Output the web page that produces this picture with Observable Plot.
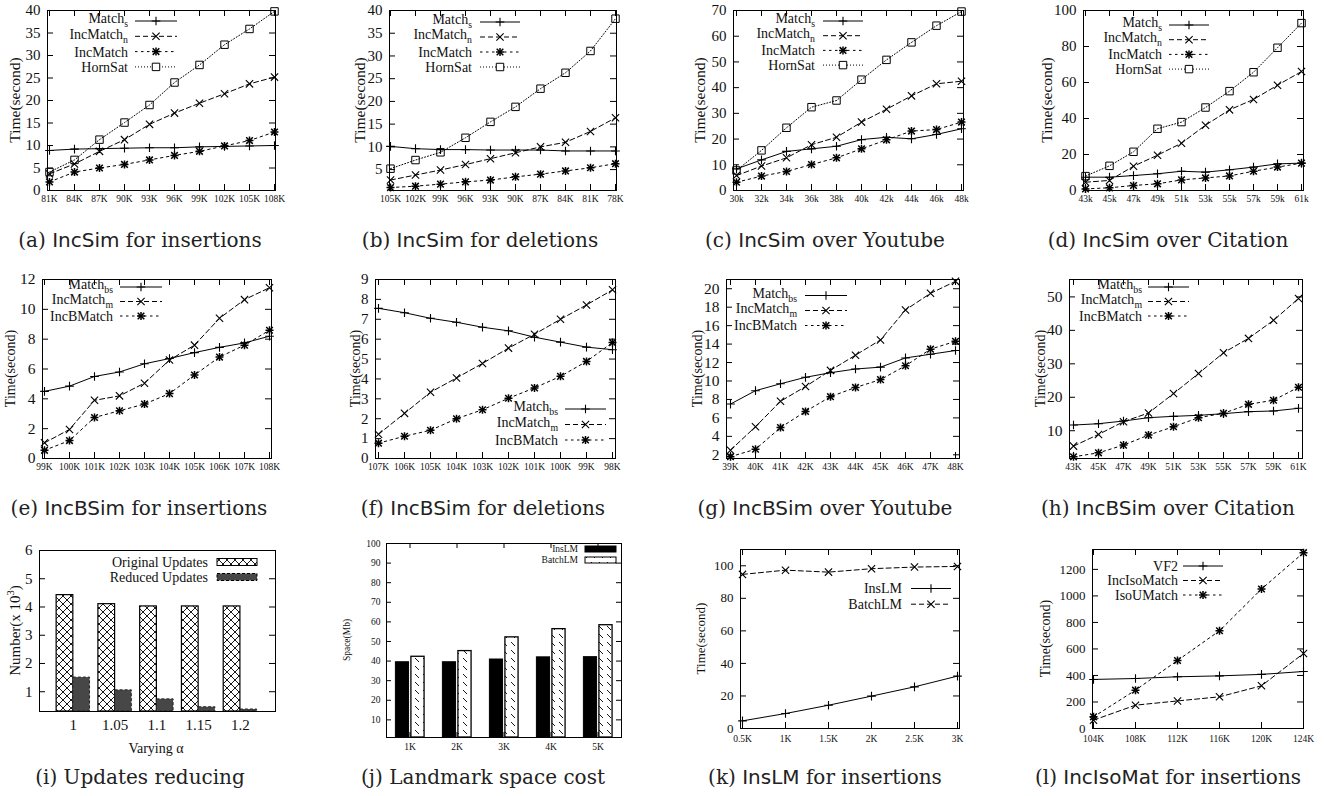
<!DOCTYPE html>
<html><head><meta charset="utf-8">
<script src="https://cdn.jsdelivr.net/npm/d3@7"></script>
<script src="https://cdn.jsdelivr.net/npm/@observablehq/plot@0.6"></script>
<style>
body{margin:0;background:#fff;}
#root{position:relative;width:1325px;height:796px;overflow:hidden;background:#fff;}
.panel{position:absolute;}
.cap{position:absolute;font-family:"DejaVu Serif",serif;font-size:20px;color:#222;white-space:nowrap;transform:translate(-50%,-50%);line-height:1;}
.cap .sf{font-family:"DejaVu Sans",sans-serif;}
</style></head><body>
<svg width="0" height="0" style="position:absolute">
<defs>
<pattern id="xhatch" width="8" height="8" patternUnits="userSpaceOnUse"><path d="M0,0L8,8M8,0L0,8" stroke="#000" stroke-width="0.9"/></pattern>
<pattern id="bslash" width="8" height="8" patternUnits="userSpaceOnUse"><path d="M1,1L5,5" stroke="#000" stroke-width="0.9"/></pattern>
</defs></svg>
<div id="root"></div>
<script>
// ---------------- data ----------------
const aX = ["81K","84K","87K","90K","93K","96K","99K","102K","105K","108K"];
const aMatchS    = [8.9, 9.2, 9.3, 9.4, 9.5, 9.5, 9.7, 9.8, 9.9, 10.0];
const aIncMatchN = [3.7, 5.9, 8.7, 11.3, 14.7, 17.2, 19.4, 21.5, 23.7, 25.2];
const aIncMatch  = [1.9, 4.1, 5.0, 5.8, 6.8, 7.8, 8.7, 9.9, 11.1, 13.0];
const aHornSat   = [4.1, 6.8, 11.3, 15.1, 19.0, 24.0, 27.9, 32.4, 35.9, 39.8];

const bX = ["105K","102K","99K","96K","93K","90K","87K","84K","81K","78K"];
const bMatchS    = [10.1, 9.6, 9.4, 9.4, 9.3, 9.3, 9.3, 9.1, 9.1, 9.1];
const bIncMatchN = [2.7, 3.8, 4.9, 6.1, 7.4, 8.7, 10.0, 11.0, 13.4, 16.4];
const bIncMatch  = [1.05, 1.35, 1.8, 2.3, 2.7, 3.4, 4.0, 4.7, 5.4, 6.3];
const bHornSat   = [5.2, 7.1, 8.8, 12.0, 15.5, 18.8, 22.8, 26.3, 31.1, 38.2];

const cX = ["30k","32k","34k","36k","38k","40k","42k","44k","46k","48k"];
const cMatchS    = [8.4, 11.9, 15.2, 16.2, 17.2, 19.8, 20.7, 20.1, 21.8, 24.0];
const cIncMatchN = [5.8, 9.5, 12.7, 17.8, 20.7, 26.6, 31.6, 36.8, 41.5, 42.5];
const cIncMatch  = [3.2, 5.6, 7.4, 10.1, 12.7, 16.2, 19.7, 23.1, 23.7, 26.6];
const cHornSat   = [7.8, 15.6, 24.4, 32.4, 35.0, 43.1, 50.8, 57.6, 64.1, 69.6];

const dX = ["43k","45k","47k","49k","51k","53k","55k","57k","59k","61k"];
const dMatchS    = [7.4, 7.4, 8.3, 9.3, 10.7, 10.2, 11.5, 13.0, 14.8, 15.2];
const dIncMatchN = [4.6, 5.6, 13.5, 19.6, 26.3, 36.3, 44.8, 50.6, 58.5, 66.1];
const dIncMatch  = [0.9, 1.5, 2.8, 3.7, 5.9, 7.0, 8.1, 10.7, 13.0, 15.2];
const dHornSat   = [8.0, 13.7, 21.5, 34.3, 38.0, 46.1, 55.2, 65.7, 79.3, 93.0];

const eX = ["99K","100K","101K","102K","103K","104K","105K","106K","107K","108K"];
const eMatchBs   = [4.5, 4.85, 5.5, 5.8, 6.35, 6.7, 7.1, 7.45, 7.75, 8.2];
const eIncMatchM = [1.05, 1.95, 3.9, 4.2, 5.05, 6.6, 7.6, 9.4, 10.65, 11.45];
const eIncBMatch = [0.55, 1.2, 2.75, 3.2, 3.65, 4.35, 5.6, 6.8, 7.6, 8.6];

const fX = ["107K","106K","105K","104K","103K","102K","101K","100K","99K","98K"];
const fMatchBs   = [7.55, 7.33, 7.05, 6.85, 6.6, 6.42, 6.1, 5.85, 5.6, 5.47];
const fIncMatchM = [1.22, 2.27, 3.33, 4.05, 4.78, 5.55, 6.25, 7.0, 7.72, 8.48];
const fIncBMatch = [0.77, 1.12, 1.42, 2.0, 2.45, 3.03, 3.55, 4.13, 4.88, 5.83];

const gX = ["39K","40K","41K","42K","43K","44K","45K","46K","47K","48K"];
const gMatchBs   = [7.5, 8.95, 9.7, 10.4, 10.9, 11.3, 11.5, 12.5, 12.9, 13.3];
const gIncMatchM = [2.5, 5.05, 7.8, 9.4, 11.15, 12.8, 14.45, 17.7, 19.5, 20.8];
const gIncBMatch = [1.8, 2.6, 4.95, 6.7, 8.3, 9.3, 10.15, 11.65, 13.45, 14.3];

const hX = ["43K","45K","47K","49K","51K","53K","55K","57K","59K","61K"];
const hMatchBs   = [11.7, 12.1, 12.9, 13.9, 14.3, 14.6, 15.1, 15.7, 15.9, 16.7];
const hIncMatchM = [5.4, 8.9, 12.7, 15.3, 21.1, 27.1, 33.3, 37.6, 43.0, 49.5];
const hIncBMatch = [2.2, 3.4, 5.7, 8.7, 11.2, 13.9, 15.2, 17.9, 19.1, 23.0];

const iAlpha    = ["1","1.05","1.1","1.15","1.2"];
const iOriginal = [4.42, 4.10, 4.02, 4.02, 4.02];
const iReduced  = [1.50, 1.05, 0.73, 0.45, 0.37];

const jX = ["1K","2K","3K","4K","5K"];
const jInsLM   = [39.4, 39.4, 40.8, 41.9, 42.0];
const jBatchLM = [42.2, 45.1, 52.1, 56.3, 58.3];

const kX = ["0.5K","1K","1.5K","2K","2.5K","3K"];
const kInsLM   = [4.7, 9.2, 14.3, 19.9, 25.6, 32.2];
const kBatchLM = [94.7, 97.3, 96.1, 98.2, 99.2, 99.6];

const lX = ["104K","108K","112K","116K","120K","124K"];
const lVF2         = [370, 377, 390, 397, 408, 430];
const lIncIsoMatch = [63, 176, 208, 239, 322, 566];
const lIsoUMatch   = [88, 289, 513, 737, 1052, 1326];

const row1Names = [{t:"Match",s:"s"},{t:"IncMatch",s:"n"},{t:"IncMatch"},{t:"HornSat"}];
const row2Names = [{t:"Match",s:"bs"},{t:"IncMatch",s:"m"},{t:"IncBMatch"}];

// ---------------- helpers ----------------
const FONT = "'Liberation Serif','Times New Roman',serif";
const INK = "#111";
const root = document.getElementById("root");
const ML = 60, MR = 12, MT = 6;
const DASH = {plus:null, times:"5,3", star:"2.5,3.5", square:"1,2"};
const FMT = d => String(d);

function symbolMarks(data, xf, yf, kind) {
  if (kind === "plus") return [Plot.dot(data,{x:xf,y:yf,symbol:"plus",r:2.9,stroke:"#000",strokeWidth:1.1})];
  if (kind === "times") return [Plot.dot(data,{x:xf,y:yf,symbol:"times",r:3.4,stroke:"#000",strokeWidth:1.1})];
  if (kind === "star") return [
    Plot.dot(data,{x:xf,y:yf,symbol:"plus",r:2.7,stroke:"#000",strokeWidth:1.5}),
    Plot.dot(data,{x:xf,y:yf,symbol:"times",r:3.1,stroke:"#000",strokeWidth:1.5})];
  return [Plot.dot(data,{x:xf,y:yf,symbol:"square",r:4.2,fill:"none",stroke:"#000",strokeWidth:1})];
}
function legendSymbol(g, kind, x, y) {
  const draw = (type, r, sw, fill) => g.append("path")
    .attr("d", d3.symbol(type, Math.PI*r*r)()).attr("transform",`translate(${x},${y})`)
    .attr("fill", fill || "none").attr("stroke","#000").attr("stroke-width", sw);
  if (kind === "plus") draw(d3.symbolPlus, 2.9, 1.1);
  else if (kind === "times") draw(d3.symbolTimes, 3.4, 1.1);
  else if (kind === "star") { draw(d3.symbolPlus, 2.7, 1.5); draw(d3.symbolTimes, 3.1, 1.5); }
  else draw(d3.symbolSquare, 4.2, 1, "white");
}
function labelText(g, name, x, y, font, anchor) {
  const shift = name.s ? -2.5 : 0;
  const t = g.append("text").attr("x", x).attr("y", y + shift).attr("dy","0.35em")
    .attr("text-anchor", anchor || "end").attr("font-size", font).attr("fill", INK);
  t.append("tspan").text(name.t);
  if (name.s) t.append("tspan").attr("dy", 4).attr("font-size", font*0.7).text(name.s);
  return t;
}
function addLineLegend(svg, series, leg) {
  const g = d3.select(svg).append("g").attr("font-family", FONT);
  series.forEach((s, i) => {
    const y = MT + leg.y0 + i*leg.dy;
    labelText(g, s.name, ML + leg.tx, y, leg.font);
    g.append("line").attr("x1", ML+leg.l1).attr("x2", ML+leg.l2).attr("y1", y).attr("y2", y)
      .attr("stroke","#000").attr("stroke-width",1).attr("stroke-dasharray", DASH[s.kind]);
    legendSymbol(g, s.kind, ML + (leg.l1+leg.l2)/2, y);
  });
}
function addYLabel(svg, fh, off, font, parts) {
  const g = d3.select(svg).append("g").attr("font-family", FONT)
    .attr("transform", `translate(${ML-off},${MT+fh/2}) rotate(-90)`);
  const t = g.append("text").attr("text-anchor","middle").attr("dy","0.35em").attr("font-size",font).attr("fill",INK);
  parts.forEach(p => {
    const ts = t.append("tspan").text(p.t);
    if (p.sup) ts.attr("dy", -font*0.4).attr("font-size", font*0.7);
    if (p.after) ts.attr("dy", font*0.4);
  });
}
function place(svg, left, top) {
  const div = document.createElement("div");
  div.className = "panel"; div.style.left = left+"px"; div.style.top = top+"px";
  div.appendChild(svg); root.appendChild(div);
}
const STYLE = {fontFamily: FONT, color: INK, background: "transparent", overflow: "visible", maxWidth: "none"};

function linePanel(p) {
  const fw = p.R - p.L, fh = p.B - p.T, MB = p.mb || 30;
  const xs = p.x, TL = p.tl || 6;
  const marks = [];
  marks.push(Plot.tickX(xs, {x:d=>d, insetTop: fh-TL, stroke:"#000"}));
  marks.push(Plot.tickX(xs, {x:d=>d, insetBottom: fh-TL, stroke:"#000"}));
  marks.push(Plot.tickY(p.yTicks, {y:d=>d, insetRight: fw-TL, stroke:"#000"}));
  marks.push(Plot.tickY(p.yTicks, {y:d=>d, insetLeft: fw-TL, stroke:"#000"}));
  p.series.forEach(s => {
    marks.push(Plot.line(s.values, {x:(d,i)=>xs[i], y:d=>d, stroke:"#000", strokeWidth:1, strokeDasharray: DASH[s.kind]}));
    marks.push(...symbolMarks(s.values, (d,i)=>xs[i], d=>d, s.kind));
  });
  marks.push(Plot.axisX({tickSize:0, tickPadding: p.xPad || 5, fontSize: p.xFont, label:null}));
  marks.push(Plot.axisY({ticks: p.yTicks, tickFormat: FMT, tickSize:0, tickPadding: 7, fontSize: p.yFont, label:null}));
  marks.push(Plot.frame({stroke:"#000", strokeWidth:1}));
  const svg = Plot.plot({
    width: fw+ML+MR, height: fh+MT+MB, marginLeft: ML, marginRight: MR, marginTop: MT, marginBottom: MB,
    x: {type:"point", domain: xs, padding: 0}, y: {domain: p.yDomain},
    style: STYLE, marks
  });
  addLineLegend(svg, p.series, p.leg);
  addYLabel(svg, fh, p.ylOff, p.ylFont, [{t:"Time(second)"}]);
  place(svg, p.L-ML, p.T-MT);
}
function r1(vals){ return [
  {name: row1Names[0], kind:"plus", values: vals[0]},
  {name: row1Names[1], kind:"times", values: vals[1]},
  {name: row1Names[2], kind:"star", values: vals[2]},
  {name: row1Names[3], kind:"square", values: vals[3]}]; }
function r2(vals){ return [
  {name: row2Names[0], kind:"plus", values: vals[0]},
  {name: row2Names[1], kind:"times", values: vals[1]},
  {name: row2Names[2], kind:"star", values: vals[2]}]; }

// ---------------- row 1 ----------------
linePanel({L:47,R:275,T:10,B:190, x:aX, yDomain:[0,40], yTicks:d3.range(0,41,5), xFont:9.5, yFont:15, ylOff:32, ylFont:15.5,
  series:r1([aMatchS,aIncMatchN,aIncMatch,aHornSat]), leg:{tx:81,l1:88,l2:130,y0:11,dy:15.3,font:14}});
linePanel({L:389,R:616,T:10,B:190, x:bX, yDomain:[0.4,40], yTicks:d3.range(5,41,5), xFont:9.5, yFont:15, ylOff:29, ylFont:15.5,
  series:r1([bMatchS,bIncMatchN,bIncMatch,bHornSat]), leg:{tx:83,l1:91,l2:131,y0:12,dy:15,font:14}});
linePanel({L:733,R:963,T:10,B:190, x:cX, yDomain:[0,70], yTicks:d3.range(0,71,10), xFont:9.5, yFont:15, ylOff:33, ylFont:15.5,
  series:r1([cMatchS,cIncMatchN,cIncMatch,cHornSat]), leg:{tx:82,l1:90,l2:130,y0:11,dy:14.7,font:14}});
linePanel({L:1083,R:1303,T:10,B:190, x:dX, yDomain:[0,100], yTicks:d3.range(0,101,20), xFont:9.5, yFont:15, ylOff:36, ylFont:15.5,
  series:r1([dMatchS,dIncMatchN,dIncMatch,dHornSat]), leg:{tx:79,l1:86,l2:126,y0:15,dy:14.7,font:14}});

// ---------------- row 2 ----------------
linePanel({L:42,R:271,T:279,B:458, x:eX, yDomain:[0,12], yTicks:d3.range(0,13,2), xFont:9.5, yFont:15.5, ylOff:32, ylFont:14,
  series:r2([eMatchBs,eIncMatchM,eIncBMatch]), leg:{tx:71,l1:78,l2:120,y0:8,dy:14.5,font:14}});
linePanel({L:375,R:615,T:279,B:458, x:fX, yDomain:[0,9], yTicks:d3.range(0,10,1), xFont:9.5, yFont:15, ylOff:20, ylFont:14,
  series:r2([fMatchBs,fIncMatchM,fIncBMatch]), leg:{tx:183,l1:190,l2:231,y0:130,dy:15.5,font:14}});
linePanel({L:726,R:959,T:279,B:458, x:gX, yDomain:[1.6,21], yTicks:d3.range(2,21,2), xFont:9.5, yFont:15.5, ylOff:29, ylFont:14,
  series:r2([gMatchBs,gIncMatchM,gIncBMatch]), leg:{tx:71,l1:79,l2:121,y0:16.5,dy:15,font:14}});
linePanel({L:1069,R:1302,T:279,B:458, x:hX, yDomain:[1.7,55.2], yTicks:d3.range(10,51,10), xFont:9.5, yFont:15.5, ylOff:29, ylFont:14,
  series:r2([hMatchBs,hIncMatchM,hIncBMatch]), leg:{tx:73,l1:79,l2:120,y0:8,dy:14.5,font:14}});

// ---------------- row 3: (k), (l) ----------------
linePanel({L:740,R:959,T:549,B:728, x:kX, yDomain:[0,110], yTicks:d3.range(0,101,20), xFont:9.5, yFont:13, ylOff:40, ylFont:13,
  xPad:7, series:[{name:{t:"InsLM"},kind:"plus",values:kInsLM},{name:{t:"BatchLM"},kind:"times",values:kBatchLM}],
  leg:{tx:162,l1:171,l2:211,y0:39.5,dy:15.7,font:14}});
linePanel({L:1092,R:1303,T:549,B:728, x:lX, yDomain:[0,1350], yTicks:d3.range(0,1201,200), xFont:9.5, yFont:13, ylOff:47, ylFont:14,
  xPad:7, series:[{name:{t:"VF2"},kind:"plus",values:lVF2},{name:{t:"IncIsoMatch"},kind:"times",values:lIncIsoMatch},{name:{t:"IsoUMatch"},kind:"star",values:lIsoUMatch}],
  leg:{tx:86,l1:91,l2:131,y0:17,dy:14.5,font:14}});

// ---------------- (i) bars ----------------
(function(){
  const L=39,R=275,T=550,B=711, fw=R-L, fh=B-T, MB=50, TL=6, y0=0.3;
  const idx = iAlpha.map((d,i)=>i);
  const yt = d3.range(1,7,1);
  const svg = Plot.plot({
    width: fw+ML+MR, height: fh+MT+MB, marginLeft: ML, marginRight: MR, marginTop: MT, marginBottom: MB,
    x: {type:"linear", domain:[-0.81,4.84]}, y: {domain:[y0,6]}, style: STYLE,
    marks: [
      Plot.tickY(yt, {y:d=>d, insetRight: fw-TL, stroke:"#000"}),
      Plot.tickY(yt, {y:d=>d, insetLeft: fw-TL, stroke:"#000"}),
      Plot.rect(iOriginal, {x1:(d,i)=>i-0.4, x2:(d,i)=>i, y1:()=>y0, y2:d=>d, fill:"url(#xhatch)", stroke:"#000", strokeWidth:1.2}),
      Plot.rect(iReduced, {x1:(d,i)=>i, x2:(d,i)=>i+0.4, y1:()=>y0, y2:d=>d, fill:"#474747", stroke:"#222", strokeWidth:1, strokeDasharray:"3,2"}),
      Plot.axisX({ticks: idx, tickFormat: i=>iAlpha[i], tickSize:0, tickPadding:8, fontSize:15, label:null}),
      Plot.axisY({ticks: yt, tickFormat: FMT, tickSize:0, tickPadding:7, fontSize:15, label:null}),
      Plot.frame({stroke:"#000", strokeWidth:1})
    ]
  });
  const g = d3.select(svg).append("g").attr("font-family", FONT);
  [["Original Updates","url(#xhatch)",null,12],["Reduced Updates","#474747","3,2",27]].forEach(([t,fill,da,yy])=>{
    g.append("text").attr("x",ML+169).attr("y",MT+yy).attr("dy","0.35em").attr("text-anchor","end").attr("font-size",14).attr("fill",INK).text(t);
    g.append("rect").attr("x",ML+178).attr("y",MT+yy-3.5).attr("width",40).attr("height",7).attr("fill",fill).attr("stroke","#000").attr("stroke-dasharray",da);
  });
  g.append("text").attr("x",ML+fw/2-1).attr("y",MT+fh+37).attr("dy","0.35em").attr("text-anchor","middle").attr("font-size",14).attr("fill",INK).text("Varying α");
  addYLabel(svg, fh, 24, 15, [{t:"Number(x 10"},{t:"3",sup:true},{t:")",after:true}]);
  place(svg, L-ML, T-MT);
})();

// ---------------- (j) bars ----------------
(function(){
  const L=386,R=621,T=543,B=737, fw=R-L, fh=B-T, MB=30, TL=5, y0=1;
  const idx = jX.map((d,i)=>i);
  const yt = d3.range(10,101,10);
  const svg = Plot.plot({
    width: fw+ML+MR, height: fh+MT+MB, marginLeft: ML, marginRight: MR, marginTop: MT, marginBottom: MB,
    x: {type:"linear", domain:[-0.5,4.5]}, y: {domain:[y0,100]}, style: STYLE,
    marks: [
      Plot.tickY(yt, {y:d=>d, insetRight: fw-TL, stroke:"#000"}),
      Plot.tickY(yt, {y:d=>d, insetLeft: fw-TL, stroke:"#000"}),
      Plot.tickX(idx, {x:d=>d, insetBottom: fh-TL, stroke:"#000"}),
      Plot.tickX(idx, {x:d=>d, insetTop: fh-TL, stroke:"#000"}),
      Plot.rect(jInsLM, {x1:(d,i)=>i-0.3, x2:(d,i)=>i-0.02, y1:()=>y0, y2:d=>d, fill:"#000", stroke:"#000"}),
      Plot.rect(jBatchLM, {x1:(d,i)=>i+0.03, x2:(d,i)=>i+0.31, y1:()=>y0, y2:d=>d, fill:"url(#bslash)", stroke:"#000", strokeWidth:1.3}),
      Plot.axisX({ticks: idx, tickFormat: i=>jX[i], tickSize:0, tickPadding:6, fontSize:9.5, label:null}),
      Plot.axisY({ticks: yt, tickFormat: FMT, tickSize:0, tickPadding:6, fontSize:9.5, label:null}),
      Plot.frame({stroke:"#000", strokeWidth:1})
    ]
  });
  const g = d3.select(svg).append("g").attr("font-family", FONT);
  [["InsLM","#000",6],["BatchLM","url(#bslash)",17]].forEach(([t,fill,yy])=>{
    g.append("text").attr("x",ML+192).attr("y",MT+yy).attr("dy","0.35em").attr("text-anchor","end").attr("font-size",9.5).attr("fill",INK).text(t);
    g.append("rect").attr("x",ML+199).attr("y",MT+yy-3).attr("width",31).attr("height",6).attr("fill",fill).attr("stroke","#000");
  });
  addYLabel(svg, fh, 39, 9.5, [{t:"Space(Mb)"}]);
  place(svg, L-ML, T-MT);
})();

// ---------------- captions ----------------
const captions = [
  [140,240,"(a) ","IncSim"," for insertions"],
  [480,240,"(b) ","IncSim"," for deletions"],
  [825,240,"(c) ","IncSim"," over Youtube"],
  [1168,240,"(d) ","IncSim"," over Citation"],
  [139,508,"(e) ","IncBSim"," for insertions"],
  [483,508,"(f) ","IncBSim"," for deletions"],
  [825,508,"(g) ","IncBSim"," over Youtube"],
  [1168,508,"(h) ","IncBSim"," over Citation"],
  [140,777,"(i) Updates reducing","",""],
  [483,777,"(j) Landmark space cost","",""],
  [825,777,"(k) ","InsLM"," for insertions"],
  [1168,777,"(l) ","IncIsoMat"," for insertions"]
];
captions.forEach(([x,y,pre,sf,post])=>{
  const d = document.createElement("div");
  d.className = "cap"; d.style.left = x+"px"; d.style.top = y+"px";
  d.appendChild(document.createTextNode(pre));
  if (sf) { const s = document.createElement("span"); s.className="sf"; s.textContent = sf; d.appendChild(s); }
  if (post) d.appendChild(document.createTextNode(post));
  root.appendChild(d);
});
</script>
</body></html>
